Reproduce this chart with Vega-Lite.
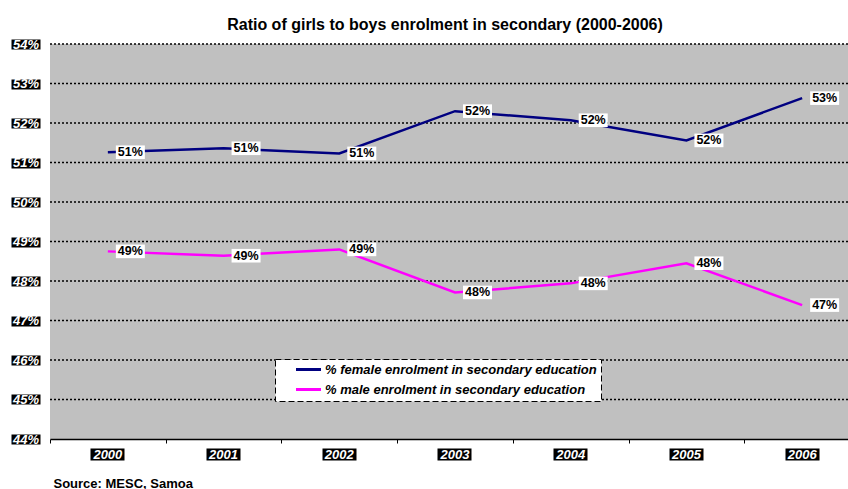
{
  "$schema": "https://vega.github.io/schema/vega-lite/v6.json",
  "width": 798,
  "height": 395,
  "autosize": {"type": "none"},
  "padding": {"left": 50, "top": 44, "right": 0, "bottom": 50},
  "background": "white",
  "view": {"fill": "#C0C0C0", "stroke": null},
  "title": {
    "text": "Ratio of girls to boys enrolment in secondary (2000-2006)",
    "font": "Liberation Sans",
    "fontSize": 16,
    "fontWeight": "bold",
    "color": "black",
    "anchor": "middle",
    "frame": "group",
    "dx": -4,
    "offset": 5
  },
  "datasets": {
    "main": [
      {"year": "2000", "series": "% female enrolment in secondary education", "v": 0.5126},
      {"year": "2001", "series": "% female enrolment in secondary education", "v": 0.5136},
      {"year": "2002", "series": "% female enrolment in secondary education", "v": 0.5123},
      {"year": "2003", "series": "% female enrolment in secondary education", "v": 0.5230},
      {"year": "2004", "series": "% female enrolment in secondary education", "v": 0.5207},
      {"year": "2005", "series": "% female enrolment in secondary education", "v": 0.5156},
      {"year": "2006", "series": "% female enrolment in secondary education", "v": 0.5263},
      {"year": "2000", "series": "% male enrolment in secondary education", "v": 0.4875},
      {"year": "2001", "series": "% male enrolment in secondary education", "v": 0.4864},
      {"year": "2002", "series": "% male enrolment in secondary education", "v": 0.4880},
      {"year": "2003", "series": "% male enrolment in secondary education", "v": 0.4771},
      {"year": "2004", "series": "% male enrolment in secondary education", "v": 0.4794},
      {"year": "2005", "series": "% male enrolment in secondary education", "v": 0.4845},
      {"year": "2006", "series": "% male enrolment in secondary education", "v": 0.4739}
    ],
    "grid": [
      {"g": 0.45}, {"g": 0.46}, {"g": 0.47}, {"g": 0.48}, {"g": 0.49},
      {"g": 0.50}, {"g": 0.51}, {"g": 0.52}, {"g": 0.53}, {"g": 0.54}
    ]
  },
  "resolve": {"axis": {"x": "independent", "y": "independent"}},
  "layer": [
    {
      "data": {"name": "grid"},
      "mark": {"type": "rule", "stroke": "black", "strokeWidth": 1.5, "strokeDash": [2, 2]},
      "encoding": {
        "y": {
          "field": "g",
          "type": "quantitative",
          "scale": {"domain": [0.44, 0.54], "nice": false, "zero": false},
          "axis": {
            "orient": "left",
            "offset": 10,
            "values": [0.44, 0.45, 0.46, 0.47, 0.48, 0.49, 0.5, 0.51, 0.52, 0.53, 0.54],
            "format": ".0%",
            "domain": false,
            "grid": false,
            "ticks": true,
            "tickSize": 29,
            "tickWidth": 10,
            "tickColor": "black",
            "labelColor": "white",
            "labelFont": "Liberation Sans",
            "labelFontSize": 13,
            "labelFontWeight": "bold",
            "labelFontStyle": "italic",
            "labelAlign": "center",
            "labelBaseline": "middle",
            "labelPadding": -14.5,
            "labelOverlap": false,
            "labelBound": false,
            "title": null
          }
        }
      }
    },
    {
      "data": {"name": "main"},
      "mark": {"type": "line", "strokeWidth": 2.5},
      "encoding": {
        "x": {
          "field": "year",
          "type": "ordinal",
          "scale": {"type": "band", "range": [0, 810], "paddingInner": 0, "paddingOuter": 0},
          "axis": {
            "orient": "bottom",
            "domain": true,
            "domainColor": "black",
            "domainWidth": 1.5,
            "ticks": true,
            "tickBand": "extent",
            "tickSize": 4,
            "tickColor": "black",
            "tickWidth": 1,
            "labels": false,
            "grid": false,
            "title": null
          }
        },
        "y": {"field": "v", "type": "quantitative", "axis": null},
        "color": {
          "field": "series",
          "type": "nominal",
          "scale": {
            "domain": ["% female enrolment in secondary education", "% male enrolment in secondary education"],
            "range": ["#000080", "#FF00FF"]
          },
          "legend": {
            "orient": "none",
            "legendX": 225,
            "legendY": 315,
            "title": null,
            "fillColor": "white",
            "strokeColor": "black",
            "padding": 4,
            "rowPadding": 6,
            "symbolType": "M-2.5,0H2.5",
            "symbolSize": 100,
            "symbolStrokeWidth": 3,
            "symbolOffset": 23,
            "labelOffset": 10,
            "labelExpr": "datum.label + '\u00a0\u00a0\u00a0\u00a0\u00a0'",
            "labelFont": "Liberation Sans",
            "labelFontSize": 13,
            "labelFontWeight": "bold",
            "labelFontStyle": "italic",
            "labelColor": "black",
            "labelLimit": 400
          }
        }
      }
    },
    {
      "data": {"name": "main"},
      "mark": {
        "type": "point",
        "shape": "M0.8,-0.68H3.7V0.68H0.8Z",
        "filled": true,
        "color": "white",
        "fill": "white",
        "opacity": 1,
        "strokeWidth": 0,
        "size": 400
      },
      "encoding": {
        "x": {
          "field": "year",
          "type": "ordinal",
          "axis": {
            "orient": "bottom",
            "offset": 9,
            "domain": false,
            "grid": false,
            "ticks": true,
            "tickBand": "center",
            "tickSize": 12,
            "tickWidth": 34,
            "tickColor": "black",
            "labelColor": "white",
            "labelFont": "Liberation Sans",
            "labelFontSize": 13,
            "labelFontWeight": "bold",
            "labelFontStyle": "italic",
            "labelAlign": "center",
            "labelBaseline": "middle",
            "labelPadding": -6,
            "labelAngle": 0,
            "labelOverlap": false,
            "title": "Source: MESC, Samoa",
            "titleX": 3,
            "titleY": 35,
            "titleAlign": "left",
            "titleAnchor": "start",
            "titleBaseline": "middle",
            "titleFont": "Liberation Sans",
            "titleFontSize": 13,
            "titleFontWeight": "bold",
            "titleColor": "black"
          }
        },
        "y": {"field": "v", "type": "quantitative", "axis": null}
      }
    },
    {
      "data": {"name": "main"},
      "mark": {
        "type": "text",
        "align": "center",
        "baseline": "middle",
        "dx": 22.5,
        "font": "Liberation Sans",
        "fontSize": 12.5,
        "fontWeight": "bold",
        "color": "black"
      },
      "encoding": {
        "x": {"field": "year", "type": "ordinal", "axis": null},
        "y": {"field": "v", "type": "quantitative", "axis": null},
        "text": {"field": "v", "type": "quantitative", "format": ".0%"}
      }
    }
  ],
  "config": {
    "font": "Liberation Sans",
    "legend": {"strokeDash": [6, 3], "strokeWidth": 1}
  }
}
